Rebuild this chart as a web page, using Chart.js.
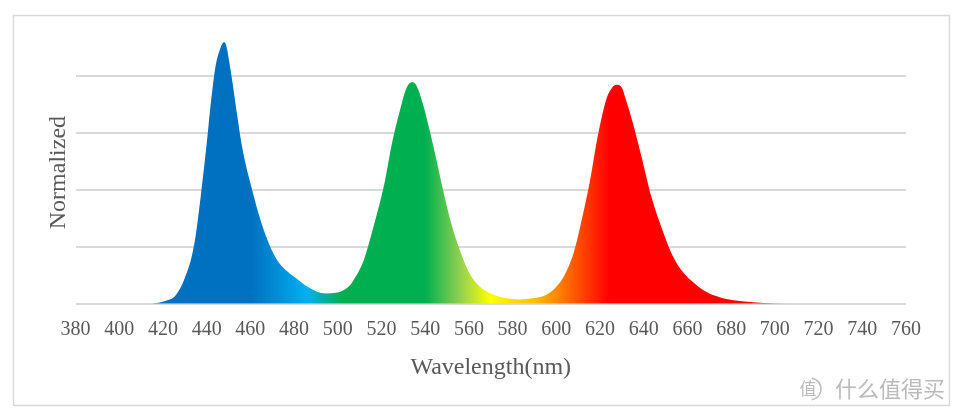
<!DOCTYPE html>
<html>
<head>
<meta charset="utf-8">
<script src="https://cdn.jsdelivr.net/npm/chart.js@4/dist/chart.umd.min.js"></script>
<style>
html,body{margin:0;padding:0;background:#fff}
#wrap{width:964px;height:420px;position:relative}
</style>
</head>
<body>
<div id="wrap"><canvas id="c" width="964" height="420"></canvas></div>
<script>
// ---- data ----
const wavelengths = [380, 400, 415, 418, 422, 425, 428, 430, 433, 435, 437.5, 440, 442, 444, 446, 448, 449, 450, 451.5, 454, 456, 458, 461, 464, 467, 470, 473, 477, 481, 486, 490, 495, 499, 502, 505, 507, 510, 512, 516, 521, 525, 528.5, 531.5, 534, 536, 539, 542, 545, 548, 552, 556, 560, 565, 571, 577, 583, 589, 595, 599, 603, 608, 611.5, 615.5, 619, 623, 625.5, 627.5, 630, 632, 635, 639, 643.5, 648, 653, 658, 663, 669, 675, 682, 690, 700, 710, 760];
const intensity   = [0, 0, 0, 0.003, 0.012, 0.023, 0.055, 0.09, 0.16, 0.24, 0.39, 0.56, 0.71, 0.83, 0.89, 0.918, 0.905, 0.865, 0.794, 0.66, 0.56, 0.485, 0.395, 0.31, 0.24, 0.185, 0.145, 0.113, 0.089, 0.06, 0.044, 0.036, 0.038, 0.045, 0.06, 0.08, 0.12, 0.155, 0.26, 0.41, 0.57, 0.68, 0.758, 0.777, 0.766, 0.70, 0.61, 0.51, 0.405, 0.28, 0.186, 0.11, 0.06, 0.032, 0.019, 0.015, 0.019, 0.03, 0.052, 0.09, 0.18, 0.29, 0.435, 0.59, 0.72, 0.758, 0.768, 0.758, 0.712, 0.635, 0.515, 0.375, 0.27, 0.172, 0.11, 0.073, 0.04, 0.022, 0.011, 0.005, 0.001, 0, 0];
const xMin = 380, xMax = 760, xStep = 20;
const yMin = 0, yMax = 0.92, yStep = 0.2;
const xAxisTitle = 'Wavelength(nm)';
const yAxisTitle = 'Normalized';

// ---- style: spectrum gradient stops (wavelength, colour) ----
const gradientStops = [
  [380, '#0070C0'], [460, '#0070C0'], [486, '#00B0F0'], [502, '#00B050'],
  [540, '#00B050'], [556, '#92D050'], [570, '#FFFF00'], [590, '#FFC000'],
  [624, '#FF0000'], [760, '#FF0000']
];

const textColor = '#595959';
const serif = "'Liberation Serif', 'Times New Roman', serif";
const padBottom = 38;
const plotBottom = 303.7;
const plotLeft = 75.5;
const padLeft = 13;

function spectrumFill(context) {
  const chart = context.chart;
  const {ctx, chartArea, scales} = chart;
  if (!chartArea || !scales.x) return '#0070C0';
  const x0 = scales.x.getPixelForValue(xMin);
  const x1 = scales.x.getPixelForValue(xMax);
  const g = ctx.createLinearGradient(x0, 0, x1, 0);
  gradientStops.forEach(([w, c]) => g.addColorStop((w - xMin) / (xMax - xMin), c));
  return g;
}

const framePlugin = {
  id: 'frame',
  beforeDraw(chart) {
    const c = chart.ctx;
    c.save();
    c.fillStyle = '#ffffff';
    c.fillRect(0, 0, chart.width, chart.height);
    c.strokeStyle = '#D9D9D9';
    c.lineWidth = 1.5;
    c.strokeRect(13.5, 15.5, 936, 390);
    c.restore();
  },
  afterDraw(chart) {
    const c = chart.ctx;
    c.save();
    c.fillStyle = 'rgba(175,175,175,0.85)';
    c.strokeStyle = 'rgba(175,175,175,0.85)';
    c.lineWidth = 1.5;
    c.beginPath();
    c.arc(810, 389, 11, -Math.PI * 0.45, Math.PI * 0.45);
    c.stroke();
    c.font = "17px 'Noto Sans CJK SC'";
    c.textBaseline = 'middle';
    c.textAlign = 'center';
    c.fillText('值', 808, 389);
    c.font = "22px 'Noto Sans CJK SC'";
    c.textAlign = 'left';
    c.fillText('什么值得买', 835, 389);
    c.restore();
  }
};

new Chart(document.getElementById('c'), {
  type: 'line',
  data: {
    datasets: [{
      data: wavelengths.map((w, i) => ({x: w, y: intensity[i]})),
      fill: 'origin',
      backgroundColor: spectrumFill,
      borderWidth: 0,
      borderColor: 'rgba(0,0,0,0)',
      pointRadius: 0,
      cubicInterpolationMode: 'monotone'
    }]
  },
  options: {
    responsive: false,
    animation: false,
    layout: {padding: {left: padLeft, right: 58, top: 41.5, bottom: padBottom}},
    plugins: {legend: {display: false}, tooltip: {enabled: false}},
    scales: {
      x: {
        type: 'linear', min: xMin, max: xMax,
        ticks: {stepSize: xStep, color: textColor, font: {family: serif, size: 20}, padding: 14, maxRotation: 0, autoSkip: false, callback: v => String(v)},
        grid: {display: false, drawTicks: false},
        border: {display: false},
        title: {display: true, text: xAxisTitle, color: textColor, font: {family: serif, size: 24}, padding: {top: 0, bottom: 0}},
        afterFit(s) { s.height = 420 - padBottom - plotBottom; }
      },
      y: {
        min: yMin, max: yMax,
        ticks: {display: false, stepSize: yStep, includeBounds: false},
        grid: {color: '#D9D9D9', lineWidth: 2, drawTicks: false},
        border: {display: false},
        title: {display: true, text: yAxisTitle, color: textColor, font: {family: serif, size: 24}, padding: {top: 31.6, bottom: 0}},
        afterFit(s) { s.width = plotLeft - padLeft; }
      }
    }
  },
  plugins: [framePlugin]
});
</script>
</body>
</html>
